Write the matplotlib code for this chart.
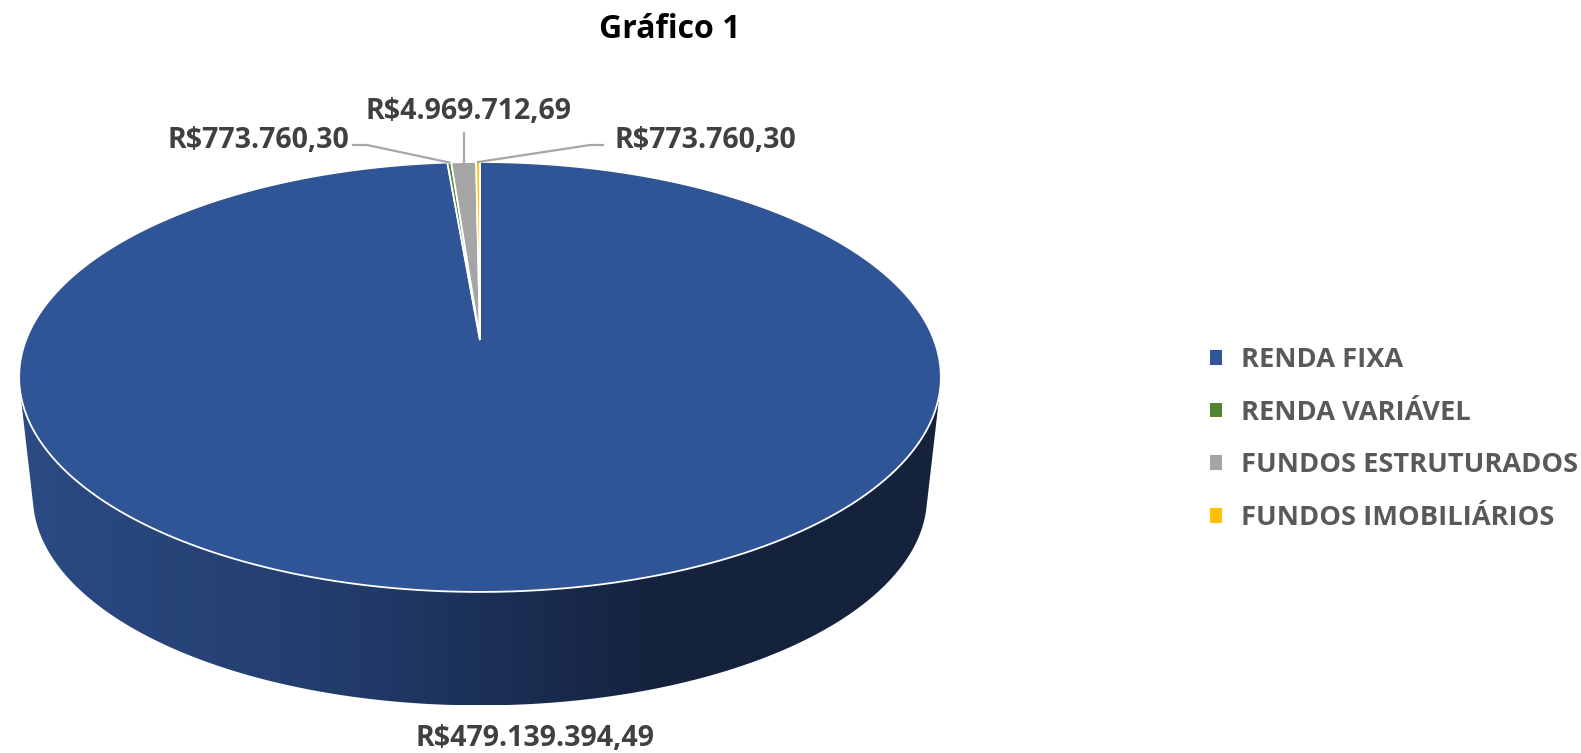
"""Gráfico 1 - pizza 3D (estilo Excel) da carteira por segmento."""

import matplotlib

matplotlib.use("Agg")
import matplotlib.pyplot as plt
import matplotlib.transforms as mtransforms
import numpy as np
from matplotlib.colors import LinearSegmentedColormap
from matplotlib.patches import Patch, Polygon
from matplotlib.path import Path

plt.rcParams["font.family"] = ["Open Sans", "DejaVu Sans"]

TITLE = "Gráfico 1"
categories = ["RENDA FIXA", "RENDA VARIÁVEL", "FUNDOS ESTRUTURADOS", "FUNDOS IMOBILIÁRIOS"]
values = [479139394.49, 773760.30, 4969712.69, 773760.30]
value_labels = ["R$479.139.394,49", "R$773.760,30", "R$4.969.712,69", "R$773.760,30"]
colors = ["#2F5597", "#548235", "#A5A5A5", "#FFC000"]

W, H = 1581, 753
# perspective of the pie top (pixel space)
CX, CY, A, B, K = 480.0, 340.0, 454.0, 208.6, 0.172
DEPTH, SHRINK = 121.0, 0.97


class Persp(mtransforms.Transform):
    """Unit-circle coords -> pixel coords, with a simple perspective tilt."""
    input_dims = output_dims = 2

    def __init__(self, cx, cy, a, b, k):
        super().__init__()
        self.cx, self.cy, self.a, self.b, self.k = cx, cy, a, b, k

    def transform_non_affine(self, xy):
        xy = np.asarray(xy, dtype=float)
        u, v = xy[:, 0], xy[:, 1]
        w = 1 + self.k * v
        return np.column_stack([self.cx + self.a * u / w, self.cy - self.b * v / w])

    def transform_path_non_affine(self, path):
        # flatten the bezier arcs finely before bending them
        big = mtransforms.Affine2D().scale(2000)
        polys = path.to_polygons(transform=big, closed_only=False)
        verts = np.concatenate(polys) / 2000
        return Path(self.transform_non_affine(verts), closed=True)


def hull(pts):
    pts = sorted(map(tuple, pts))
    def cross(o, a, b):
        return (a[0] - o[0]) * (b[1] - o[1]) - (a[1] - o[1]) * (b[0] - o[0])
    lower, upper = [], []
    for p in pts:
        while len(lower) >= 2 and cross(lower[-2], lower[-1], p) <= 0:
            lower.pop()
        lower.append(p)
    for p in reversed(pts):
        while len(upper) >= 2 and cross(upper[-2], upper[-1], p) <= 0:
            upper.pop()
        upper.append(p)
    return np.array(lower[:-1] + upper[:-1])


fig = plt.figure(figsize=(W / 100, H / 100), dpi=100)
ax = fig.add_axes([0, 0, 1, 1])

top = Persp(CX, CY, A, B, K)
bottom = Persp(CX, CY + DEPTH, A * SHRINK, B * SHRINK, K)

# side wall: hull of top and bottom rims, filled with a horizontal gradient
t = np.linspace(0, 2 * np.pi, 600)
circle = np.column_stack([np.cos(t), np.sin(t)])
side_pts = hull(np.vstack([top.transform(circle), bottom.transform(circle)]))
side = Polygon(side_pts, closed=True, facecolor="none", edgecolor="none")
ax.add_patch(side)
side_cmap = LinearSegmentedColormap.from_list(
    "side", [(0, "#2C4B84"), (0.35, "#223C6C"), (0.68, "#15233F"), (1, "#14223C")])
grad = np.linspace(0, 1, 256).reshape(1, -1)
im = ax.imshow(grad, cmap=side_cmap, aspect="auto",
               extent=(side_pts[:, 0].min(), side_pts[:, 0].max(),
                       side_pts[:, 1].max(), side_pts[:, 1].min()))
im.set_clip_path(side)

# top of the pie
wedges, _ = ax.pie(values, colors=colors, startangle=90, counterclock=False,
                   radius=1, center=(0, 0),
                   wedgeprops=dict(edgecolor="white", linewidth=1.3))
for w in wedges:
    w.set_transform(top + ax.transData)
    w.set_zorder(3)

ax.set_aspect("auto")
ax.set_xlim(0, W)
ax.set_ylim(H, 0)
ax.axis("off")

# data labels with leader lines to the small slices
total = sum(values)
cum = np.cumsum([0] + values[:-1])
mids = [np.deg2rad(90 - 360 * (c + v / 2) / total) for c, v in zip(cum, values)]
rim = top.transform(np.column_stack([np.cos(mids), np.sin(mids)]))

lbl_kw = dict(fontsize=20.5, fontweight="bold", color="#404040", ha="center", va="center")
lead_kw = dict(color="#A6A6A6", linewidth=1.6, zorder=4)

ax.text(535, 739, value_labels[0], **lbl_kw)
# RENDA VARIÁVEL (left)
ax.text(258, 140, value_labels[1], **lbl_kw)
ax.plot([353, 367, rim[1, 0]], [145, 145, rim[1, 1]], **lead_kw)
# FUNDOS ESTRUTURADOS (top)
ax.text(469, 111, value_labels[2], **lbl_kw)
ax.plot([rim[2, 0], rim[2, 0]], [133, rim[2, 1]], **lead_kw)
# FUNDOS IMOBILIÁRIOS (right)
ax.text(705, 140, value_labels[3], **lbl_kw)
ax.plot([603, 590, rim[3, 0]], [145, 145, rim[3, 1]], **lead_kw)

fig.text(670 / W, 1 - 30 / H, TITLE, fontsize=23, fontweight="bold",
         color="black", ha="center", va="center")

handles = [Patch(facecolor=c, edgecolor="none") for c in colors]
ax.legend(handles, categories, loc="center left",
          bbox_to_anchor=(1185 / W, 1 - 439 / H), bbox_transform=fig.transFigure,
          frameon=False, prop=dict(size=19.6, weight="bold"), labelcolor="#595959",
          handlelength=0.45, handleheight=0.45, handletextpad=0.7, labelspacing=0.98)

fig.savefig("out.png", dpi=100)
